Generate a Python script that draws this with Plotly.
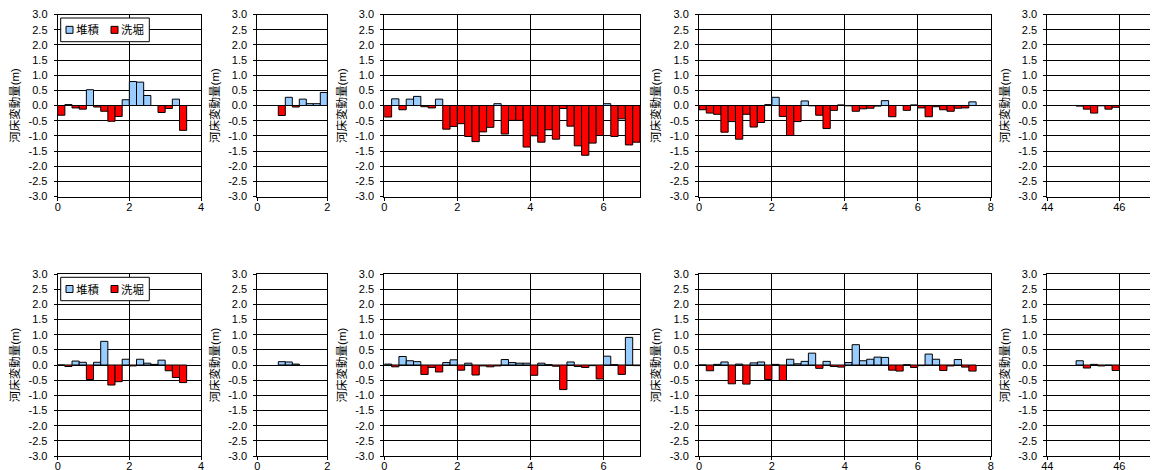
import plotly.graph_objects as go

# ---------------- data ----------------
SERIES_NAMES = ["堆積", "洗堀"]
Y_TITLE = "河床変動量(m)"
Y_TICK_VALS = [3.0, 2.5, 2.0, 1.5, 1.0, 0.5, 0.0, -0.5, -1.0, -1.5, -2.0, -2.5, -3.0]
Y_TICK_TEXT = ["3.0", "2.5", "2.0", "1.5", "1.0", "0.5", "0.0", "-0.5", "-1.0", "-1.5", "-2.0", "-2.5", "-3.0"]

# distances (bar centres, km)
DIST_1 = [0.1, 0.3, 0.5, 0.7, 0.9, 1.1, 1.3, 1.5, 1.7, 1.9, 2.1, 2.3, 2.5, 2.7, 2.9, 3.1, 3.3, 3.5]
DIST_2_TOP = [0.7, 0.9, 1.1, 1.3, 1.5, 1.7, 1.9]
DIST_2_BOT = [0.7, 0.9, 1.1]
DIST_3 = [0.1, 0.3, 0.5, 0.7, 0.9, 1.1, 1.3, 1.5, 1.7, 1.9, 2.1, 2.3, 2.5, 2.7, 2.9,
          3.1, 3.3, 3.5, 3.7, 3.9, 4.1, 4.3, 4.5, 4.7, 4.9, 5.1, 5.3, 5.5, 5.7, 5.9,
          6.1, 6.3, 6.5, 6.7, 6.9]
DIST_4 = [0.1, 0.3, 0.5, 0.7, 0.9, 1.1, 1.3, 1.5, 1.7, 1.9, 2.1, 2.3, 2.5, 2.7, 2.9,
          3.1, 3.3, 3.5, 3.7, 3.9, 4.1, 4.3, 4.5, 4.7, 4.9, 5.1, 5.3, 5.5, 5.7, 5.9,
          6.1, 6.3, 6.5, 6.7, 6.9, 7.1, 7.3, 7.5]
DIST_5 = [44.9, 45.1, 45.3, 45.5, 45.7, 45.9]

# bed change (m) — top row
TOP_1 = [-0.32, 0.03, -0.08, -0.12, 0.52, -0.05, -0.19, -0.52, -0.36, 0.19,
         0.79, 0.77, 0.33, 0.0, -0.23, -0.10, 0.21, -0.82]
TOP_2 = [-0.33, 0.27, -0.05, 0.21, 0.06, 0.06, 0.43]
TOP_3 = [-0.38, 0.22, -0.14, 0.21, 0.30, -0.04, -0.08, 0.21, -0.78, -0.69,
         -0.60, -1.02, -1.19, -0.87, -0.72, 0.06, -0.94, -0.49, -0.49, -1.37,
         -1.00, -1.21, -0.80, -1.11, -0.10, -0.68, -1.33, -1.64, -1.24, -0.99,
         0.06, -1.02, -0.44, -1.30, -1.21]
TOP_4 = [-0.14, -0.25, -0.29, -0.88, -0.53, -1.11, -0.29, -0.71, -0.56, 0.03,
         0.27, -0.36, -0.99, -0.53, 0.15, -0.01, -0.32, -0.76, -0.16, 0.02,
         -0.01, -0.19, -0.11, -0.09, -0.02, 0.16, -0.37, 0.0, -0.16, 0.02,
         -0.08, -0.37, -0.04, -0.14, -0.19, -0.09, -0.08, 0.12]
TOP_5 = [-0.02, -0.12, -0.25, -0.01, -0.12, -0.06]

# bed change (m) — bottom row
BOT_1 = [0.0, -0.05, 0.13, 0.09, -0.48, 0.09, 0.78, -0.66, -0.55, 0.19,
         -0.03, 0.19, 0.06, 0.02, 0.16, -0.19, -0.41, -0.58]
BOT_2 = [0.11, 0.10, 0.03]
BOT_3 = [0.03, -0.06, 0.28, 0.14, 0.11, -0.31, -0.08, -0.23, 0.08, 0.17,
         -0.17, 0.06, -0.33, -0.03, -0.06, -0.03, 0.18, 0.08, 0.06, 0.06,
         -0.34, 0.06, 0.01, -0.04, -0.81, 0.10, -0.05, -0.08, -0.02, -0.46,
         0.29, 0.01, -0.31, 0.91, -0.02]
BOT_4 = [0.0, -0.19, 0.02, 0.10, -0.62, 0.03, -0.63, 0.07, 0.10, -0.48,
         0.02, -0.51, 0.19, 0.04, 0.12, 0.39, -0.11, 0.12, -0.05, -0.07,
         0.08, 0.67, 0.14, 0.19, 0.26, 0.25, -0.17, -0.20, 0.01, -0.08,
         -0.02, 0.36, 0.19, -0.18, -0.03, 0.18, -0.07, -0.20]
BOT_5 = [0.14, -0.10, 0.02, -0.03, -0.01, -0.18]

X_RANGES = [[0, 4], [0, 2], [0, 7], [0, 8], [44, 47]]

PANELS = [
    (0, 0, DIST_1, TOP_1), (0, 1, DIST_2_TOP, TOP_2), (0, 2, DIST_3, TOP_3),
    (0, 3, DIST_4, TOP_4), (0, 4, DIST_5, TOP_5),
    (1, 0, DIST_1, BOT_1), (1, 1, DIST_2_BOT, BOT_2), (1, 2, DIST_3, BOT_3),
    (1, 3, DIST_4, BOT_4), (1, 4, DIST_5, BOT_5),
]

# ---------------- layout / style ----------------
W, H = 1158, 470
OFF = 8  # page offset of the figure inside the browser window
COL_PX = [(57.7, 201.0), (257.3, 327.3), (384.3, 640.0), (699.0, 990.7), (1047.3, 1155.3)]
ROW_PX = [(14.5, 196.5), (274.0, 456.0)]
BLUE = "#99CCFF"
RED = "#FF0000"
FONT = "Liberation Sans, Arial, Noto Sans CJK JP, sans-serif"


def px_x(p):
    return (p - OFF) / W


def px_y(p):
    return 1 - (p - OFF) / H


fig = go.Figure()
layout = dict(
    width=W, height=H, margin=dict(l=0, r=0, t=0, b=0, autoexpand=False),
    paper_bgcolor="white", plot_bgcolor="white",
    barmode="overlay", showlegend=False,
    font=dict(family=FONT, size=11, color="black"),
    shapes=[], annotations=[],
)

for i, (r, c, xs, ys) in enumerate(PANELS):
    n = i + 1
    xa = "x" if n == 1 else f"x{n}"
    ya = "y" if n == 1 else f"y{n}"
    pos = [v if v >= 0 else None for v in ys]
    neg = [v if v < 0 else None for v in ys]
    fig.add_trace(go.Bar(x=xs, y=pos, width=0.2, name=SERIES_NAMES[0],
                         marker=dict(color=BLUE, line=dict(color="black", width=1)),
                         xaxis=xa, yaxis=ya))
    fig.add_trace(go.Bar(x=xs, y=neg, width=0.2, name=SERIES_NAMES[1],
                         marker=dict(color=RED, line=dict(color="black", width=1)),
                         xaxis=xa, yaxis=ya))
    x0, x1 = COL_PX[c]
    yt, yb = ROW_PX[r]
    layout["xaxis" if n == 1 else f"xaxis{n}"] = dict(
        domain=[px_x(x0), px_x(x1)], anchor=ya, range=X_RANGES[c], automargin=False,
        dtick=2, tick0=0, showgrid=True, gridcolor="black", gridwidth=1,
        showline=True, linecolor="black", linewidth=1, mirror=True,
        ticks="outside", ticklen=3, tickcolor="black", ticklabelstandoff=-3,
        zeroline=False, tickfont=dict(size=11, family=FONT),
    )
    layout["yaxis" if n == 1 else f"yaxis{n}"] = dict(
        domain=[px_y(yb), px_y(yt)], anchor=xa, range=[-3, 3], automargin=False,
        tickmode="array", tickvals=Y_TICK_VALS, ticktext=Y_TICK_TEXT,
        showgrid=True, gridcolor="black", gridwidth=1,
        showline=True, linecolor="black", linewidth=1, mirror=True,
        ticks="outside", ticklen=3, tickcolor="black", ticklabelstandoff=4,
        zeroline=True, zerolinecolor="black", zerolinewidth=1,
        tickfont=dict(size=11, family=FONT),
        title=dict(text=Y_TITLE, font=dict(size=11.5, family=FONT), standoff=6),
    )

# legend boxes (in panel 1 of each row)
for (bx0, by0, bx1, by1) in [(60.7, 18.0, 149.3, 41.7), (60.7, 277.3, 149.3, 300.7)]:
    cy = (by0 + by1) / 2
    layout["shapes"].append(dict(type="rect", xref="paper", yref="paper",
                                 x0=px_x(bx0), x1=px_x(bx1), y0=px_y(by1), y1=px_y(by0),
                                 line=dict(color="black", width=1), fillcolor="white", layer="above"))
    for sx, col, tx, name in [(66.0, BLUE, 74.0, SERIES_NAMES[0]), (111.0, RED, 118.5, SERIES_NAMES[1])]:
        layout["shapes"].append(dict(type="rect", xref="paper", yref="paper",
                                     x0=px_x(sx), x1=px_x(sx + 7), y0=px_y(cy + 3.5), y1=px_y(cy - 3.5),
                                     line=dict(color="black", width=1), fillcolor=col, layer="above"))
        layout["annotations"].append(dict(xref="paper", yref="paper", x=px_x(tx), y=px_y(cy),
                                          xanchor="left", yanchor="middle", text=name, showarrow=False,
                                          font=dict(size=11.5, family=FONT, color="black")))

fig.update_layout(**layout)
fig.write_html("out.html")
